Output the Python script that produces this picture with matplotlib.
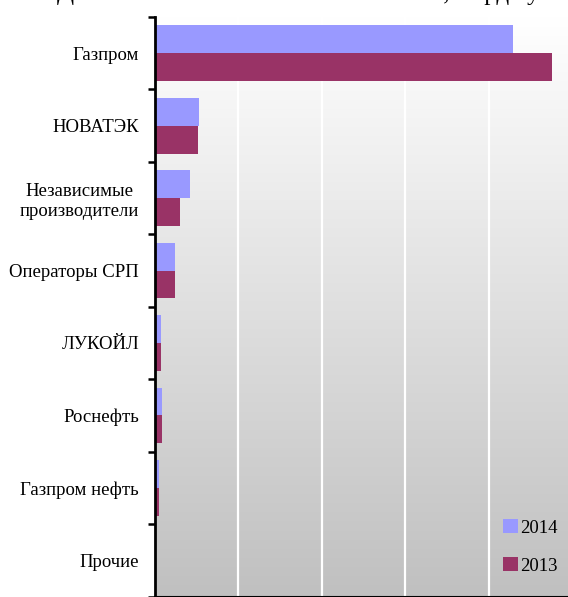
import numpy as np
import matplotlib
matplotlib.use("Agg")
import matplotlib.pyplot as plt
from matplotlib.colors import LinearSegmentedColormap

plt.rcParams['font.family'] = ['Liberation Serif', 'DejaVu Serif']

# данные
компании = ['Газпром', 'НОВАТЭК', 'Независимые\nпроизводители', 'Операторы СРП',
            'ЛУКОЙЛ', 'Роснефть', 'Газпром нефть', 'Прочие']
добыча_2014 = [429, 53.3, 42.5, 24.5, 7.8, 9.0, 5.4, 0]
добыча_2013 = [475, 52.1, 30.5, 24.5, 7.8, 9.0, 5.4, 0]
годы = ['2014', '2013']
заголовок = 'Добыча газа в России по компаниям, млрд куб. м'

fig = plt.figure(figsize=(5.68, 5.97), dpi=100)
ax = fig.add_axes([154.5 / 568, 0.5 / 597, 418 / 568, 579.5 / 597])

n = len(компании)
y = np.arange(n)
h = 0.385

# фон с градиентом
grad = np.linspace(0, 1, 256).reshape(-1, 1)
cmap = LinearSegmentedColormap.from_list('g', ['#ffffff', '#c0c0c0'])
ax.imshow(grad, extent=[0, 500, n - 0.5, -0.5], aspect='auto', cmap=cmap, zorder=0)

ax.barh(y - h / 2, добыча_2014, height=h, color='#9999ff', label=годы[0], zorder=2)
ax.barh(y + h / 2, добыча_2013, height=h, color='#993366', label=годы[1], zorder=2)

ax.set_xlim(0, 500)
ax.set_ylim(n - 0.5, -0.5)

ax.set_xticks(np.arange(0, 501, 100))
ax.xaxis.grid(True, color='white', linewidth=1.6, zorder=1)
ax.tick_params(axis='x', direction='out', length=4, width=1.2, labelbottom=False)

ax.set_yticks(y)
ax.set_yticklabels(компании, fontsize=13.5, family='Liberation Serif')
ax.set_yticks(np.arange(-0.5, n, 1), minor=True)
ax.tick_params(axis='y', which='major', length=0, pad=11)
ax.tick_params(axis='y', which='minor', direction='out', length=5, width=1.8)
for lab in ax.get_yticklabels():
    lab.set_multialignment('center')

for s in ['top', 'right']:
    ax.spines[s].set_visible(False)
ax.spines['left'].set_linewidth(2)
ax.spines['bottom'].set_linewidth(1.5)

leg = ax.legend(loc='center left', bbox_to_anchor=(496 / 568, (597 - 547) / 597),
                bbox_transform=fig.transFigure, frameon=False,
                prop={'family': 'Liberation Serif', 'size': 13.5},
                handlelength=0.75, handleheight=0.75, handletextpad=0.15,
                labelspacing=1.1, borderaxespad=0)

fig.text(57 / 568, 1.0, заголовок, fontsize=18, ha='left', va='baseline',
         family='Liberation Serif')

fig.savefig('out.png', dpi=100)
